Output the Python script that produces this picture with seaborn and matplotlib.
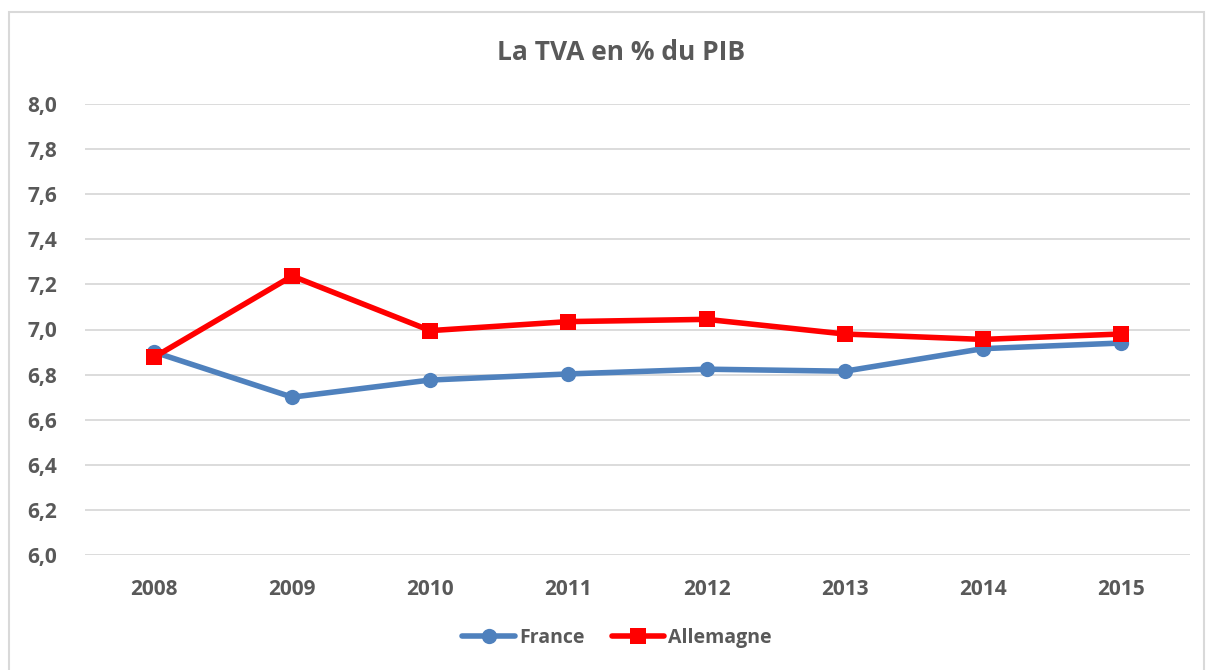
import numpy as np
import pandas as pd
import matplotlib
matplotlib.use("Agg")
import matplotlib.pyplot as plt
import matplotlib.ticker as mticker
from matplotlib.patches import Rectangle
import seaborn as sns

# data
years = ["2008", "2009", "2010", "2011", "2012", "2013", "2014", "2015"]
france = [6.90, 6.70, 6.776, 6.803, 6.824, 6.815, 6.915, 6.94]
allemagne = [6.877, 7.237, 6.995, 7.035, 7.045, 6.98, 6.956, 6.98]

sns.set_style("white")
plt.rcParams['font.family'] = ['Open Sans', 'DejaVu Sans']
plt.rcParams['font.weight'] = 'bold'
grey = "#595959"

df = pd.DataFrame({"annee": years + years,
                   "tva": france + allemagne,
                   "pays": ["France"] * len(years) + ["Allemagne"] * len(years)})

fig = plt.figure(figsize=(12.08, 6.70), dpi=100)
ax = fig.add_axes([85 / 1208, 1 - 555 / 670, (1190 - 85) / 1208, (555 - 104) / 670])

sns.lineplot(data=df, x="annee", y="tva", hue="pays", style="pays",
             palette={"France": "#4F81BD", "Allemagne": "#FF0000"},
             markers={"France": "o", "Allemagne": "s"}, dashes=False,
             linewidth=4, markersize=11, markeredgewidth=0, ax=ax)

ax.set_xlim(-0.5, len(years) - 0.5)
ax.set_ylim(6.0, 8.0)
ax.set_yticks(np.arange(6.0, 8.01, 0.2))
ax.yaxis.set_major_formatter(mticker.FuncFormatter(lambda v, p: f"{v:.1f}".replace(".", ",")))
ax.yaxis.grid(True, color="#D9D9D9", linewidth=1.3)
ax.set_axisbelow(True)
for s in ax.spines.values():
    s.set_visible(False)
ax.tick_params(axis="both", length=0, labelsize=15, labelcolor=grey)
ax.tick_params(axis="y", pad=20)
ax.tick_params(axis="x", pad=17)
for lab in ax.get_xticklabels() + ax.get_yticklabels():
    lab.set_fontweight("bold")
ax.set_xlabel("")
ax.set_ylabel("")

fig.text(621 / 1208, 1 - 52 / 670, "La TVA en % du PIB", ha="center", va="center",
         fontsize=19, fontweight="bold", color=grey)

handles, labels = ax.get_legend_handles_labels()
leg = ax.legend(handles, labels, loc="center", bbox_to_anchor=(617 / 1208, 1 - 638 / 670),
                bbox_transform=fig.transFigure, ncol=2, frameon=False, handlelength=2.7,
                columnspacing=1.4, handletextpad=0.2, prop={"size": 14, "weight": "bold"})
for t in leg.get_texts():
    t.set_color(grey)

# chart area border
fig.patches.append(Rectangle((9 / 1208, -0.05), (1204 - 9) / 1208, 1.05 - 12 / 670,
                             transform=fig.transFigure, fill=False,
                             edgecolor="#D9D9D9", linewidth=1.5))

fig.savefig("out.png", dpi=100)
